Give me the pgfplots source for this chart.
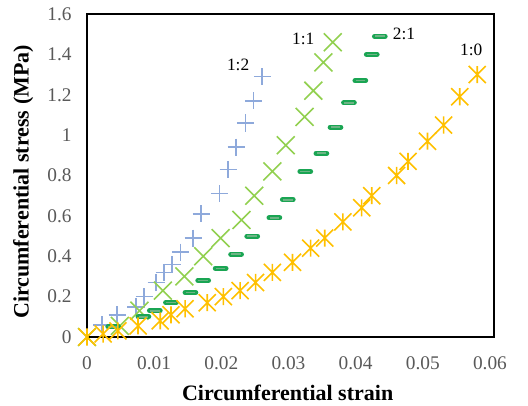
\documentclass[border=0pt]{standalone}
\usepackage{fontspec}
\setmainfont{Liberation Serif}
\usepackage{pgfplots}
\pgfplotsset{compat=1.18}

\definecolor{cblue}{HTML}{8EA9DB}
\definecolor{clgreen}{HTML}{92D050}
\definecolor{cdgreen}{HTML}{1AA553}
\definecolor{cdgreenin}{HTML}{6DB485}
\definecolor{cyellow}{HTML}{FFC000}
\definecolor{tickgray}{HTML}{595959}

% Excel-style star: an x with a vertical bar
\pgfdeclareplotmark{xstar}{%
  \pgfpathmoveto{\pgfqpoint{-\pgfplotmarksize}{-\pgfplotmarksize}}%
  \pgfpathlineto{\pgfqpoint{\pgfplotmarksize}{\pgfplotmarksize}}%
  \pgfpathmoveto{\pgfqpoint{-\pgfplotmarksize}{\pgfplotmarksize}}%
  \pgfpathlineto{\pgfqpoint{\pgfplotmarksize}{-\pgfplotmarksize}}%
  \pgfpathmoveto{\pgfqpoint{0pt}{-\pgfplotmarksize}}%
  \pgfpathlineto{\pgfqpoint{0pt}{\pgfplotmarksize}}%
  \pgfusepathqstroke}

\pgfplotstableread{
x y
0.0022 0.06
0.0045 0.11
0.0073 0.15
0.0085 0.20
0.0103 0.27
0.0115 0.32
0.0127 0.36
0.0139 0.42
0.0158 0.49
0.0170 0.61
0.0197 0.71
0.0210 0.83
0.0222 0.94
0.0236 1.06
0.0248 1.17
0.0261 1.29
}\onetwo

\pgfplotstableread{
x y
0.0000 0.00
0.0049 0.055
0.0078 0.13
0.0113 0.23
0.0145 0.30
0.0173 0.40
0.0199 0.49
0.0230 0.58
0.0249 0.70
0.0276 0.82
0.0296 0.95
0.0324 1.09
0.0337 1.22
0.0352 1.36
0.0366 1.46
}\oneone

\pgfplotstableread{
x y
0.0039 0.05
0.0084 0.10
0.0101 0.13
0.0125 0.17
0.0154 0.22
0.0173 0.28
0.0199 0.34
0.0222 0.41
0.0246 0.50
0.0279 0.59
0.0299 0.68
0.0325 0.82
0.0349 0.91
0.0370 1.04
0.0390 1.16
0.0407 1.27
0.0424 1.40
0.0436 1.49
}\twoone

\pgfplotstableread{
x y
0.0000 0.00
0.0024 0.015
0.0046 0.03
0.0076 0.055
0.0109 0.08
0.0125 0.11
0.0146 0.14
0.0179 0.17
0.0203 0.20
0.0228 0.23
0.0251 0.27
0.0276 0.32
0.0306 0.37
0.0333 0.44
0.0354 0.49
0.0381 0.57
0.0409 0.64
0.0424 0.70
0.0461 0.80
0.0478 0.87
0.0507 0.97
0.0531 1.05
0.0555 1.19
0.0581 1.30
}\onezero

\begin{document}
\begin{tikzpicture}
\useasboundingbox (-65.25pt,-51.75pt) rectangle (330.75pt,252.75pt);
\begin{axis}[
    at={(0,0)}, anchor=south west,
    scale only axis,
    width=305.25pt, height=242.25pt,
    xmin=0, xmax=0.0606,
    ymin=0, ymax=1.6,
    clip=false,
    scaled x ticks=false, scaled y ticks=false,
    axis line style={line width=1.5pt, black},
    major tick length=0pt,
    xtick={0,0.01,0.02,0.03,0.04,0.05,0.06},
    xticklabels={0,0.01,0.02,0.03,0.04,0.05,0.06},
    ytick={0,0.2,0.4,0.6,0.8,1,1.2,1.4,1.6},
    yticklabels={0,0.2,0.4,0.6,0.8,1,1.2,1.4,1.6},
    tick label style={font=\fontsize{14.5}{16}\selectfont, text=tickgray},
    xticklabel style={yshift=-11pt},
    yticklabel style={xshift=-8pt},
    xlabel={\textbf{Circumferential strain}},
    ylabel={\textbf{Circumferential stress (MPa)}},
    label style={font=\fontsize{16.5}{18}\selectfont},
    xlabel style={at={(axis description cs:0.493,-0.172)}, anchor=center},
    ylabel style={at={(axis description cs:-0.157,0.48)}, anchor=center},
]
\addplot[only marks, mark=+, mark size=6.4pt, color=cblue, line width=1.2pt] table {\onetwo};
\addplot[only marks, mark=x, mark size=9.5pt, color=clgreen, line width=1.2pt] table {\oneone};
\addplot[only marks, mark=-, mark size=4pt, color=cdgreen, line width=3.8pt, mark options={line cap=round}] table {\twoone};
\addplot[only marks, mark=-, mark size=3.6pt, color=cdgreenin, line width=1.2pt] table {\twoone};
\addplot[only marks, mark=xstar, mark size=6.4pt, color=cyellow, line width=1.2pt] table {\onezero};

\node[font=\fontsize{13}{15}\selectfont] at (axis cs:0.0225,1.35) {1:2};
\node[font=\fontsize{13}{15}\selectfont] at (axis cs:0.0322,1.475) {1:1};
\node[font=\fontsize{13}{15}\selectfont] at (axis cs:0.0472,1.50) {2:1};
\node[font=\fontsize{13}{15}\selectfont] at (axis cs:0.0572,1.42) {1:0};
\end{axis}
\end{tikzpicture}
\end{document}
